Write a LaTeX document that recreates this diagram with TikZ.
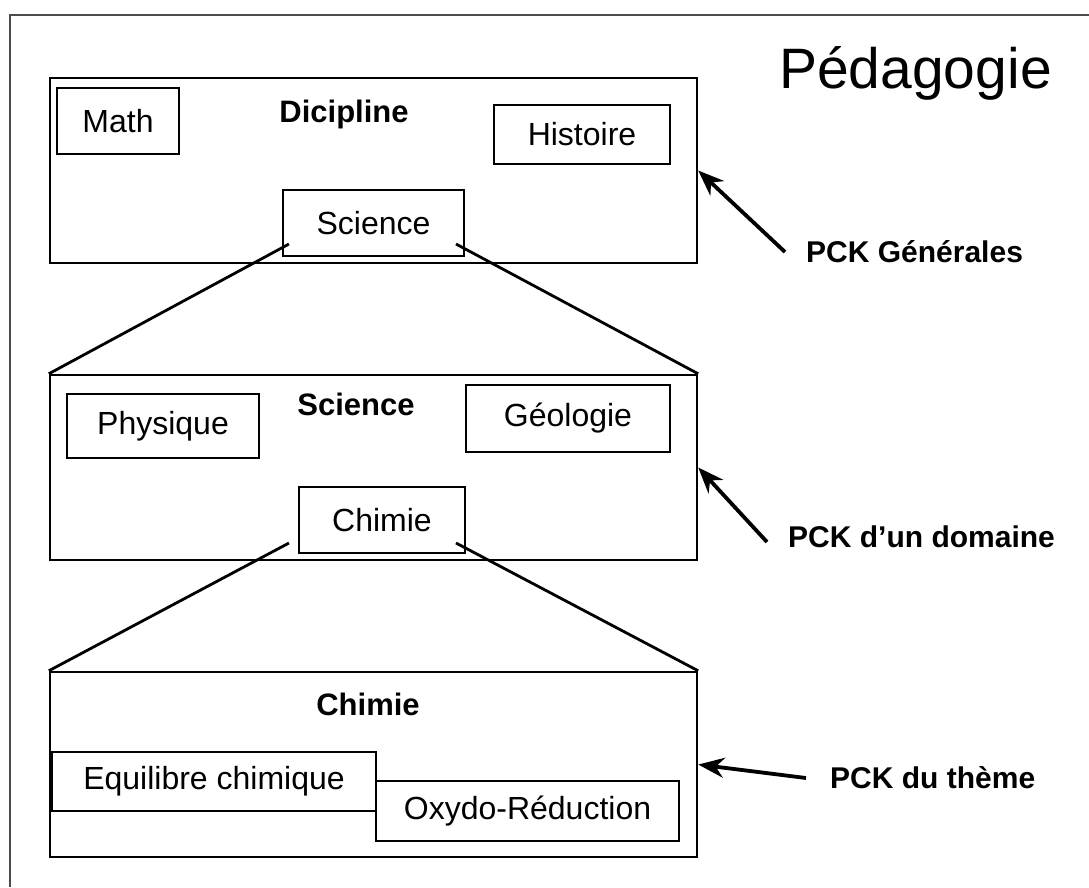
\documentclass[tikz,border=0pt]{standalone}
\usepackage{fontspec}
\setmainfont{Liberation Sans}
\usetikzlibrary{arrows.meta}

\begin{document}
\begin{tikzpicture}[x=1pt, y=-1pt,
    level/.style={draw, line width=2.4pt, minimum width=647pt, minimum height=185pt, inner sep=0pt},
    topic/.style={draw, line width=2pt, inner sep=0pt, font=\fontsize{32}{38}\selectfont},
    title/.style={anchor=base, inner sep=0pt, font=\fontsize{31}{37}\selectfont\bfseries},
    pck/.style={anchor=base west, inner sep=0pt, font=\fontsize{30}{36}\selectfont\bfseries},
    zoomline/.style={line width=2.8pt},
    pointer/.style={line width=3.8pt, -{Stealth[length=26pt, width=20pt]}}]
  \useasboundingbox (0,0) rectangle (1089,887);

  % frame and heading
  \draw[line width=2.2pt, black!70] (10,887) -- (10,15) -- (1089,15);
  \node[anchor=base west, inner sep=0pt, font=\fontsize{57}{68}\selectfont] (peda) at (779,88) {Pédagogie};

  % discipline level
  \node[level] (dic) at (373.5,170.5) {};
  \node[title] (dicT) at (344,122) {Dicipline};
  \node[topic, minimum width=122pt, minimum height=66pt] (math) at (118,121) {Math};
  \node[topic, minimum width=176pt, minimum height=59pt] (hist) at (582,134.5) {Histoire};
  \node[topic, minimum width=181pt, minimum height=66pt] (sci) at (373.5,223) {Science};

  % domain level
  \node[level] (dom) at (373.5,467.5) {};
  \node[title] (domT) at (356,415) {Science};
  \node[topic, minimum width=192pt, minimum height=64pt] (phys) at (163,426) {Physique};
  \node[topic, minimum width=204pt, minimum height=67pt] (geo) at (568,418.5) {Géologie};
  \node[topic, minimum width=166pt, minimum height=66pt] (chim) at (382,520) {Chimie};

  % theme level
  \node[level] (thm) at (373.5,764.5) {};
  \node[title] (thmT) at (368,715) {Chimie};
  \node[topic, minimum width=324pt, minimum height=59pt] (equi) at (214,781.5) {Equilibre chimique};
  \node[topic, minimum width=303pt, minimum height=60pt] (oxy) at (527.5,811) {Oxydo-Réduction};

  % zoom lines
  \draw[zoomline] ([xshift=7pt, yshift=13pt]sci.south west) -- (dom.north west);
  \draw[zoomline] ([xshift=-9pt, yshift=13pt]sci.south east) -- (dom.north east);
  \draw[zoomline] ([xshift=-9pt, yshift=11pt]chim.south west) -- (thm.north west);
  \draw[zoomline] ([xshift=-10pt, yshift=11pt]chim.south east) -- (thm.north east);

  % PCK labels
  \node[pck] (gen) at (806,262) {PCK Générales};
  \node[pck] (domL) at (788,547) {PCK d’un domaine};
  \node[pck] (thmL) at (830,788) {PCK du thème};
  \coordinate (genS) at (785,252);
  \coordinate (domS) at (767,542);
  \coordinate (thmS) at (806,778);
  \draw[pointer] (genS) -- (dic.east);
  \draw[pointer] (domS) -- (dom.east);
  \draw[pointer] (thmS) -- (thm.east);
\end{tikzpicture}
\end{document}
